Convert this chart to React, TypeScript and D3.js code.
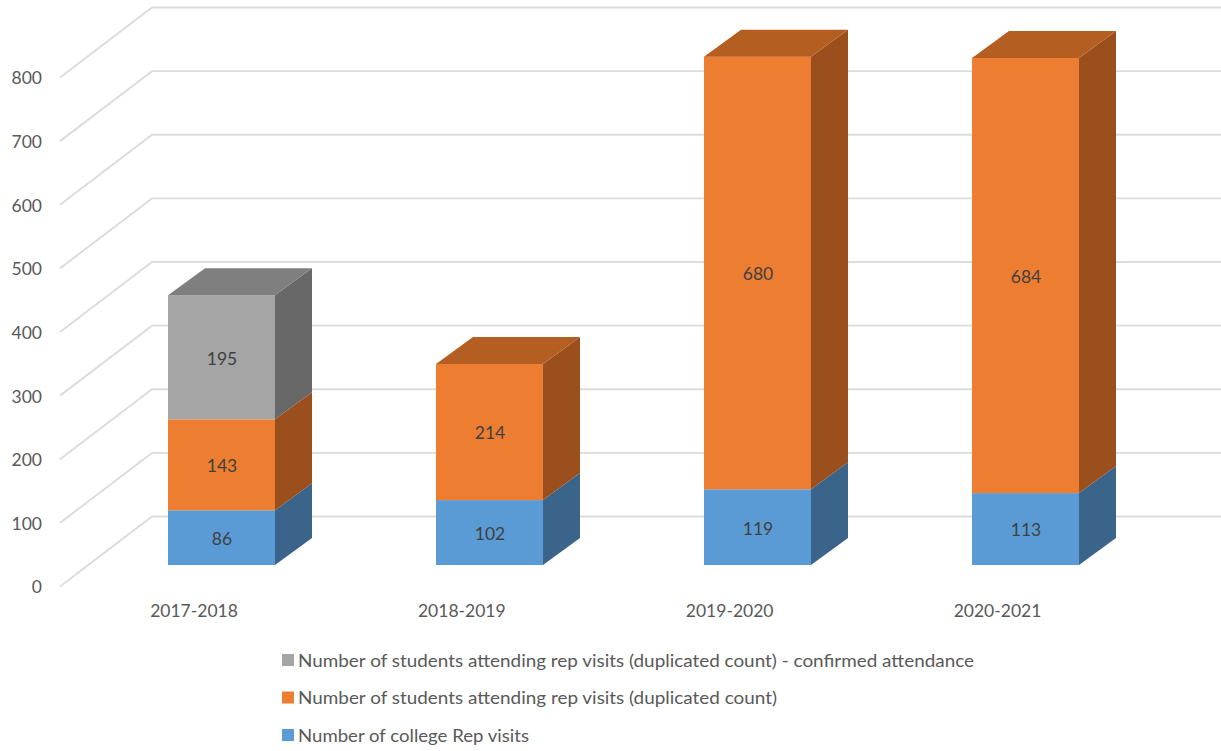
import React from "react";
import * as d3 from "d3";

const categories = ["2017-2018", "2018-2019", "2019-2020", "2020-2021"];
const repVisits = [86, 102, 119, 113];
const studentsDuplicated = [143, 214, 680, 684];
const studentsConfirmed = [195, 0, 0, 0];
const yTicks = [0, 100, 200, 300, 400, 500, 600, 700, 800];
const seriesNames = [
  "Number of college Rep visits",
  "Number of students attending rep visits (duplicated count)",
  "Number of students attending rep visits (duplicated count) - confirmed attendance",
];
const legendWidths = [231, 479, 676];

const palette = [
  { front: "#5b9bd5", side: "#3a6489", top: "#44749f" },
  { front: "#ed7d31", side: "#9a4f1c", top: "#b55e22" },
  { front: "#a5a5a5", side: "#686868", top: "#7f7f7f" },
];

const FONT = "Lato, 'Open Sans', sans-serif";
const GRID = "#dcdcdc";

// Oblique projection: bars stand on a floor inset from the front edge of the grid.
const wallDx = 92;
const wallDy = -70;
const barDx = 37;
const barDy = -27;
const barWidth = 107;

const yFront = d3.scaleLinear().domain([0, 800]).range([586.5, 77.5]);
const yBar = d3.scaleLinear().domain([0, 800]).range([565, 56]);
const xBar = d3.scalePoint<string>().domain(categories).range([168, 972]);
const xLabel = d3.scalePoint<string>().domain(categories).range([194, 997.5]);

const stacks = d3
  .stack<number>()
  .keys(["0", "1", "2"])
  .value((i, k) => [repVisits, studentsDuplicated, studentsConfirmed][+k][i])(
  categories.map((_, i) => i)
);

const poly = (pts: [number, number][]) => pts.map((p) => p.join(",")).join(" ");

export default function App() {
  return (
    <svg
      width={1221}
      height={751}
      style={{ position: "absolute", left: 0, top: 0, background: "#fff" }}
      fontFamily={FONT}
    >
      {yTicks.map((t) => {
        const y = yFront(t);
        const points: [number, number][] = [
          [60, y],
          [60 + wallDx, y + wallDy],
          [1221, y + wallDy],
        ];
        return (
          <g key={t}>
            <polyline points={poly(points)} fill="none" stroke={GRID} strokeWidth={1.9} />
            <text x={42} y={y + 2.5} textAnchor="end" dominantBaseline="middle" fontSize={17.5} fill="#595959">
              {t}
            </text>
          </g>
        );
      })}

      {categories.map((c, i) => {
        const x0 = xBar(c)!;
        const x1 = x0 + barWidth;
        const live = stacks.map((s, k) => ({ k, lo: s[i][0], hi: s[i][1] })).filter((d) => d.hi > d.lo);
        const last = live[live.length - 1];
        return (
          <g key={c}>
            {live.map((d) => {
              const yLo = yBar(d.lo);
              const yHi = yBar(d.hi);
              const col = palette[d.k];
              return (
                <g key={d.k}>
                  <polygon
                    points={poly([
                      [x1, yLo],
                      [x1 + barDx, yLo + barDy],
                      [x1 + barDx, yHi + barDy],
                      [x1, yHi],
                    ])}
                    fill={col.side}
                  />
                  <rect x={x0} y={yHi} width={barWidth} height={yLo - yHi} fill={col.front} />
                </g>
              );
            })}
            <polygon
              points={poly([
                [x0, yBar(last.hi)],
                [x0 + barDx, yBar(last.hi) + barDy],
                [x1 + barDx, yBar(last.hi) + barDy],
                [x1, yBar(last.hi)],
              ])}
              fill={palette[last.k].top}
            />
            {live.map((d) => (
              <text
                key={d.k}
                x={x0 + barWidth / 2 + 0.5}
                y={(yBar(d.lo) + yBar(d.hi)) / 2 + 3}
                textAnchor="middle"
                dominantBaseline="middle"
                fontSize={17.5}
                fill="#404040"
              >
                {d.hi - d.lo}
              </text>
            ))}
            <text x={xLabel(c)} y={613} textAnchor="middle" dominantBaseline="middle" fontSize={17.5} fill="#595959">
              {c}
            </text>
          </g>
        );
      })}

      {[2, 1, 0].map((k, row) => {
        const y = 660 + row * 37.5;
        return (
          <g key={k}>
            <rect x={282} y={y - 6} width={12} height={12} fill={palette[k].front} />
            <text
              x={298}
              y={y + 2.5}
              dominantBaseline="middle"
              fontSize={17.5}
              fill="#595959"
              textLength={legendWidths[k]}
              lengthAdjust="spacingAndGlyphs"
            >
              {seriesNames[k]}
            </text>
          </g>
        );
      })}
    </svg>
  );
}
